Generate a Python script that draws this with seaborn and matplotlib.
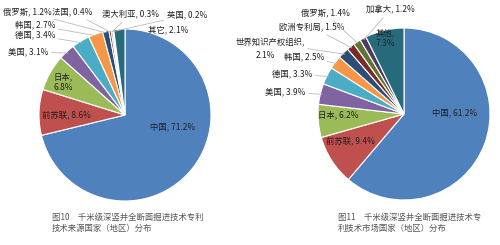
import numpy as np
import matplotlib
matplotlib.use("Agg")
import matplotlib.pyplot as plt
import seaborn as sns

# 图10 技术来源国家（地区）
src_labels = ["中国", "前苏联", "日本", "美国", "德国", "韩国",
              "俄罗斯", "法国", "澳大利亚", "英国", "其它"]
src_values = [71.2, 8.6, 6.8, 3.1, 3.4, 2.7, 1.2, 0.4, 0.3, 0.2, 2.1]

# 图11 技术市场国家（地区）
mkt_labels = ["中国", "前苏联", "日本", "美国", "德国", "韩国",
              "世界知识产权组织", "欧洲专利局", "俄罗斯", "加拿大", "其他"]
mkt_values = [61.2, 9.4, 6.2, 3.9, 3.3, 2.5, 2.1, 1.5, 1.4, 1.2, 7.3]

captions = ["图10　千米级深竖井全断面掘进技术专利\n技术来源国家（地区）分布",
            "图11　千米级深竖井全断面掘进技术专\n利技术市场国家（地区）分布"]

# office-style palette
colors = ["#4F81BD", "#C0504D", "#9BBB59", "#8064A2", "#4BACC6", "#F79646",
          "#2C4D75", "#772C2A", "#5F7530", "#4D3B62", "#276A7C"]

sns.set_theme(style="white")
plt.rcParams["font.family"] = ["Noto Sans CJK SC", "DejaVu Sans"]

H = 245
# label layout in pixel coords from top-left: (x, y, inside?, format)
src_layout = {
    "中国": (173, 127, True, "{l}, {v}%"),
    "前苏联": (66, 115, True, "{l}, {v}%"),
    "日本": (63, 82, True, "{l},\n{v}%"),
    "美国": (28, 52, False, "{l}, {v}%"),
    "德国": (35, 35, False, "{l}, {v}%"),
    "韩国": (35, 25, False, "{l}, {v}%"),
    "俄罗斯": (27, 12, False, "{l}, {v}%"),
    "法国": (72, 12, False, "{l}, {v}%"),
    "澳大利亚": (130, 15, False, "{l}, {v}%"),
    "英国": (187, 15, False, "{l}, {v}%"),
    "其它": (168, 30, True, "{l}, {v}%"),
}
mkt_layout = {
    "中国": (455, 113, True, "{l}, {v}%"),
    "前苏联": (350, 141, True, "{l}, {v}%"),
    "日本": (338, 115, True, "{l}, {v}%"),
    "美国": (285, 92, False, "{l}, {v}%"),
    "德国": (292, 74, False, "{l}, {v}%"),
    "韩国": (304, 57, False, "{l}, {v}%"),
    # two-line label: first line gets the leader, value goes below
    "世界知识产权组织": (270, 43, False, "{l},"),
    "欧洲专利局": (312, 27, False, "{l}, {v}%"),
    "俄罗斯": (325, 13, False, "{l}, {v}%"),
    "加拿大": (390, 10, False, "{l}, {v}%"),
    "其他": (385, 38, True, "{l},\n{v}%"),
}
extra_value_pos = {"世界知识产权组织": (265, 55)}

fig = plt.figure(figsize=(5, 2.45), dpi=100)
ax = fig.add_axes([0, 0, 1, 1])

pies = [
    (src_labels, src_values, src_layout, (125, H - 115), 86, (52, H - 223), captions[0]),
    (mkt_labels, mkt_values, mkt_layout, (404, H - 114), 86, (338, H - 223), captions[1]),
]

for labels, values, layout, center, r, cap_pos, cap in pies:
    ax.pie(values, colors=colors, startangle=90, counterclock=False,
           center=center, radius=r, frame=True,
           wedgeprops=dict(edgecolor="white", linewidth=0.8))
    total = sum(values)
    cum = np.cumsum([0] + values[:-1])
    for lab, val, c0 in zip(labels, values, cum):
        x, y, inside, fmt = layout[lab]
        txt = fmt.format(l=lab, v=val)
        if inside:
            ax.text(x, H - y, txt, ha="center", va="center", fontsize=6,
                    color="#222222", linespacing=1.2)
        else:
            ang = np.deg2rad(90 - 360 * (c0 + val / 2) / total)
            px = center[0] + r * 0.98 * np.cos(ang)
            py = center[1] + r * 0.98 * np.sin(ang)
            ax.annotate(txt, xy=(px, py), xytext=(x, H - y),
                        ha="center", va="center", fontsize=6,
                        color="#222222",
                        arrowprops=dict(arrowstyle="-", color="#bbbbbb",
                                        lw=0.6, shrinkA=0, shrinkB=0))
        if lab in extra_value_pos and layout is mkt_layout:
            ex, ey = extra_value_pos[lab]
            ax.text(ex, H - ey, f"{val}%", ha="center", va="center",
                    fontsize=6, color="#222222")
    ax.text(cap_pos[0], cap_pos[1], cap, ha="left", va="center",
            fontsize=6.0, color="#555555", linespacing=1.3)

ax.set_xlim(0, 500)
ax.set_ylim(0, H)
ax.set_aspect("equal")
ax.axis("off")
fig.savefig("out.png", dpi=100)
